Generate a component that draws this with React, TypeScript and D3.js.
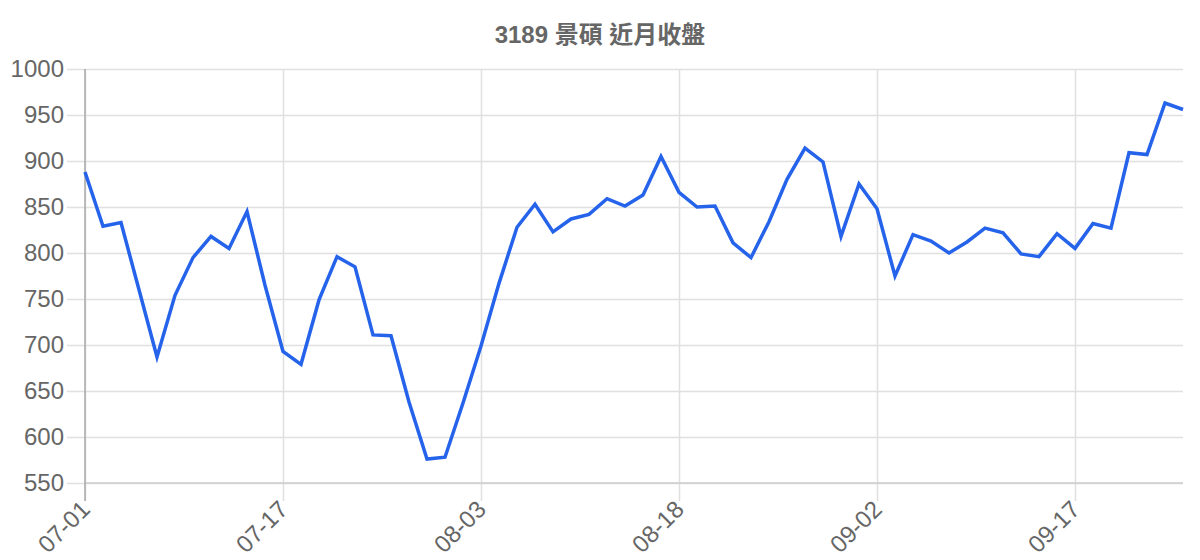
import * as React from 'react';
import {useEffect, useRef} from 'react';
import * as d3 from 'd3';

// 3189 景碩 daily closes, one value per trading day starting 07-01
const closes = [
  888, 829, 833, 760, 687, 754, 795, 818, 805, 845,
  765, 693, 679, 749, 796, 785, 711, 710, 638, 576,
  578, 637, 699, 767, 828, 853, 823, 837, 842, 859,
  851, 863, 905, 866, 850, 851, 811, 795, 834, 880,
  914, 899, 818, 875, 848, 775, 820, 813, 800, 812,
  827, 822, 799, 796, 821, 805, 832, 827, 909, 907,
  963, 956,
];

// which trading day carries a date label, and the label itself
const tickIndex = [0, 11, 22, 33, 44, 55];
const tickLabels = ['07-01', '07-17', '08-03', '08-18', '09-02', '09-17'];

const yTicks = [550, 600, 650, 700, 750, 800, 850, 900, 950, 1000];

const title = '3189 景碩 近月收盤';

const WIDTH = 1200;
const HEIGHT = 560;
const margin = {top: 69, right: 17, bottom: 77, left: 85};
const FONT = '"Liberation Sans", Arial, "Noto Sans CJK TC", sans-serif';

export default function App() {
  const ref = useRef<SVGSVGElement>(null);

  useEffect(() => {
    document.body.style.margin = '0';

    const svg = d3.select(ref.current)
      .attr('width', WIDTH)
      .attr('height', HEIGHT)
      .style('font-family', FONT);

    svg.selectAll('*').remove();

    const x = d3.scaleLinear()
      .domain([0, closes.length - 1])
      .range([margin.left, WIDTH - margin.right]);

    const y = d3.scaleLinear()
      .domain([550, 1000])
      .range([HEIGHT - margin.bottom, margin.top]);

    // horizontal grid + y labels
    const yAxis = svg.append('g')
      .attr('transform', `translate(${margin.left},0)`)
      .call(d3.axisLeft(y)
        .tickValues(yTicks)
        .tickSize(18)
        .tickPadding(3)
        .tickFormat(d3.format('d')));
    yAxis.select('.domain').remove();
    yAxis.selectAll('.tick line')
      .attr('x2', WIDTH - margin.right - margin.left)
      .attr('x1', -18)
      .attr('stroke', '#e0e0e0')
      .attr('stroke-width', 1.5);
    yAxis.selectAll('.tick text')
      .attr('x', -21)
      .attr('fill', '#666')
      .style('font-size', '24px')
      .style('font-family', FONT);

    // vertical grid + rotated date labels
    const xAxis = svg.append('g')
      .attr('transform', `translate(0,${HEIGHT - margin.bottom})`)
      .call(d3.axisBottom(x)
        .tickValues(tickIndex)
        .tickSize(18)
        .tickFormat((d, i) => tickLabels[i]));
    xAxis.select('.domain').remove();
    xAxis.selectAll('.tick line')
      .attr('y1', -(HEIGHT - margin.bottom - margin.top))
      .attr('y2', 18)
      .attr('stroke', '#e0e0e0')
      .attr('stroke-width', 1.5);
    xAxis.selectAll('.tick text')
      .attr('text-anchor', 'end')
      .attr('fill', '#666')
      .attr('transform', 'translate(-6,16) rotate(-45)')
      .attr('dy', '0.7em')
      .attr('y', 0)
      .style('font-size', '24px')
      .style('font-family', FONT);

    // axis lines
    svg.append('line')
      .attr('x1', margin.left).attr('x2', WIDTH - margin.right)
      .attr('y1', y(550)).attr('y2', y(550))
      .attr('stroke', '#cdcdcd')
      .attr('stroke-width', 1.5);
    svg.append('line')
      .attr('x1', margin.left).attr('x2', margin.left)
      .attr('y1', margin.top).attr('y2', HEIGHT - margin.bottom + 18)
      .attr('stroke', '#aaa')
      .attr('stroke-width', 1.5);

    const line = d3.line<number>()
      .x((d, i) => x(i))
      .y(d => y(d));

    svg.append('path')
      .datum(closes)
      .attr('fill', 'none')
      .attr('stroke', '#2563eb')
      .attr('stroke-width', 3.5)
      .attr('stroke-linejoin', 'miter')
      .attr('d', line);

    svg.append('text')
      .attr('x', WIDTH / 2)
      .attr('y', 43)
      .attr('text-anchor', 'middle')
      .attr('fill', '#666')
      .style('font-size', '24px')
      .style('font-weight', 'bold')
      .text(title);
  }, []);

  return <svg ref={ref} style={{display: 'block'}}/>;
}
